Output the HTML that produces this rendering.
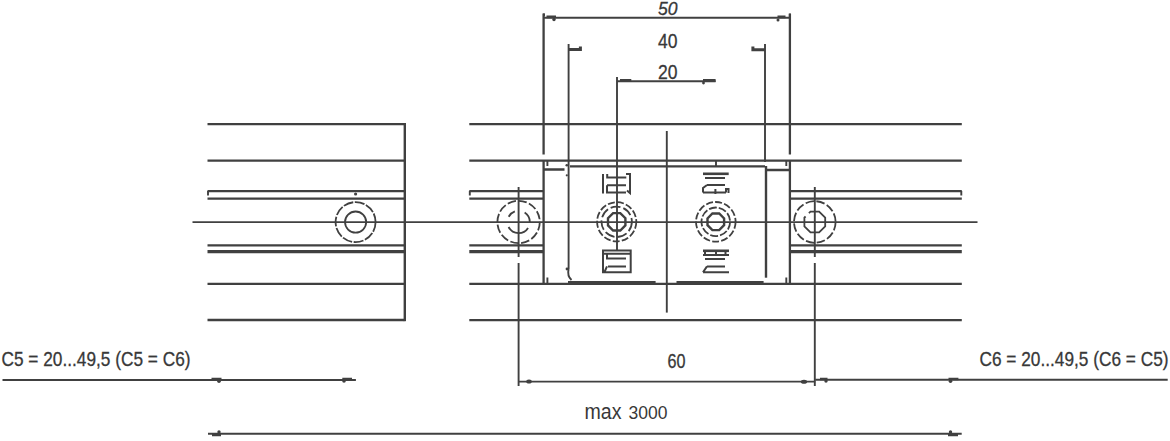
<!DOCTYPE html>
<html><head><meta charset="utf-8">
<style>
html,body{margin:0;padding:0;background:#fff;width:1170px;height:441px;overflow:hidden}
svg{display:block}
text{font-family:"Liberation Sans",sans-serif;fill:#383838}
.b{stroke:#383838;stroke-width:0.3}
.t{stroke-width:1.9}
.r{stroke-width:2.3}
.k{stroke-width:3.1}
.e{stroke-width:2.4}
</style></head><body>
<svg width="1170" height="441" viewBox="0 0 1170 441">
<g stroke="#404040" fill="none" stroke-linecap="butt">
<!-- left rail -->
<path class="r" d="M207.5 124.2H404.5M207.5 160.7H404.5M207.5 191.1H404.5M207.5 198.7H404.5M207.5 245.4H404.5M207.5 283.8H404.5M207.5 320H404.5"/>
<path class="e" d="M404.8 123V321.2"/>
<path class="k" d="M207.5 251.6H404.5"/>
<path class="t" d="M208 191V195.5"/>
<!-- middle/right rail -->
<path class="r" d="M469.3 124.2H961.8M469.3 160.6H961.8M469.3 191.1H543.6M789.9 191.1H961.8M469.3 198.7H543.6M789.9 198.7H961.8M469.3 245.4H543.6M789.9 245.4H961.8M469.3 283.8H961.8M469.3 320.1H961.8"/>
<path class="k" d="M469.3 251.6H543.6M789.9 251.6H961.8"/>
<path class="t" d="M469.8 191V195.5M961.3 191V195.5"/>
<!-- center line -->
<path d="M192.5 222.2H977.5" stroke-width="1.7"/>
<!-- carriage outer -->
<path class="r" d="M543.6 13.5V154.5M543.6 160.5V283.2M789.9 13.5V154.5M789.9 160.5V283.2"/>
<path class="t" d="M547.4 161V166M547.4 277.5V283M786.3 161V166M786.3 277.5V283M716 161V166"/>
<path class="t" d="M568.6 44V269"/>
<path class="t" d="M765 44V162"/>
<path class="e" d="M766 166V277.7"/>
<path class="r" d="M570 166.3H765M543.6 169.5H564.5M767 170H789.5"/>
<path d="M568 282.2H655.6M676.5 282.2H763.6" stroke-width="2.6"/>
<path class="t" d="M568.6 269Q567 276 571.5 280"/>
<path class="t" d="M617 77V251"/>
<path class="t" d="M666.8 131V312.6"/>
<!-- hole vertical lines -->
<path class="t" d="M518.6 187V257M518.6 263V386M814.8 187V257M814.8 263V386"/>
</g>
<g stroke="#404040" stroke-width="1.8" fill="none">
<circle cx="355.6" cy="222.1" r="20" stroke-dasharray="10 1.6"/>
<circle cx="355.6" cy="222.1" r="10.6"/>
<circle cx="518.6" cy="222" r="21.2" stroke-dasharray="8.5 2.5"/>
<circle cx="518.6" cy="222" r="11.2" stroke-dasharray="0 6.3 23.5 10.6 8.2 10.2 11.3 0.4"/>
<circle cx="814.8" cy="222" r="20.8" stroke-dasharray="8.5 2.5"/>
<path d="M808.9 213.1L810.5 211.6L819.1 211.6L825.2 217.7L825.2 226.3L819.1 232.4L810.5 232.4L804.4 226.3L804.4 217.7L805.6 216.5"/>
<circle cx="616.7" cy="221.8" r="19.6" stroke-dasharray="7 2.2"/>
<circle cx="616.7" cy="221.8" r="15.2" stroke-dasharray="10 3"/>
<polygon points="625.4,225.4 620.3,230.5 613.1,230.5 608.0,225.4 608.0,218.2 613.1,213.1 620.3,213.1 625.4,218.2" stroke-width="2.4"/>
<circle cx="715.8" cy="221.8" r="19.8" stroke-dasharray="7 2.2"/>
<circle cx="715.8" cy="221.8" r="14.3" stroke-dasharray="8 2"/>
<polygon points="724.1,225.2 719.2,230.1 712.4,230.1 707.5,225.2 707.5,218.4 712.4,213.5 719.2,213.5 724.1,218.4" stroke-width="2.4"/>
</g>
<!-- symbols -->
<g stroke="#404040" stroke-width="2" fill="none">
<path d="M603 174V193.5M607.2 174V177.5H626.3M607 185.3H626M607 185.3V192.5H626M626 174H630V193L627 190.5"/>
<path d="M603 250.4H630.7V272.2H603ZM603 253.8H630.7M607 253.8V258.6H626M608 266.4H626M607 266.4L604.5 272"/>
<path d="M703 173.8H728.7" stroke-width="2.6"/>
<path d="M705 177.9H725M707 185H725M703 192.5H726M703 192.5V188L707 185M726 192.5V189H728.5V193M715.4 189V194"/>
<path d="M703 250.8H729" stroke-width="2.6"/>
<path d="M703 254.9H729M705 259H725M707 266.4H725M703 272.2H729M703 272.2L707 266.4M716 250.8V254.9M705 250.8V254.9M725.5 250.8V254.9"/>
</g>
<!-- dimensions -->
<g stroke="#404040" fill="none">
<path class="t" d="M543.6 17.8H789.9"/>
<path d="M546.5 16.8H556M777.5 16.8H785.5" stroke-width="2.8"/>
<path d="M544 13.4V16M789.9 13.7V17" stroke-width="2"/>
<path d="M568.3 49.6H580.4V46.5M752.9 46.5V49.8H765" stroke-width="3"/>
<path class="t" d="M617 81.3H715.6"/>
<path d="M620 80.3H631.3M703 80.5H715.6" stroke-width="2.8"/>
<path class="t" d="M518.6 381.6H815.2"/>
<path class="t" d="M2.5 380H355.9M815.2 379.8H1167.7"/>
<path d="M211.5 379H221.5M342.3 379H352M820 379H827.5M948.5 379H958.4" stroke-width="2.6"/>
<path class="t" d="M208 433.8H961.7"/>
<path d="M212 435H221M948 435H958" stroke-width="2.6"/>
</g>
<g fill="#404040">
<circle cx="355.6" cy="194" r="1.6"/>
<circle cx="566.8" cy="165.2" r="1.3"/>
<circle cx="566.8" cy="175.3" r="1.1"/>
<circle cx="567" cy="269" r="1.4"/>
<circle cx="219" cy="381.3" r="1.8"/>
<circle cx="344" cy="381" r="1.8"/>
<circle cx="826" cy="381" r="1.7"/>
<circle cx="950.5" cy="381.2" r="1.8"/>
<circle cx="219" cy="432" r="1.7"/>
<circle cx="950.5" cy="432" r="1.7"/>
<circle cx="554" cy="19.5" r="1.7"/>
<circle cx="778" cy="20" r="1.5"/>
<circle cx="703.5" cy="83" r="1.4"/>
<ellipse cx="529" cy="381.5" rx="2.8" ry="2"/>
<ellipse cx="804" cy="381.7" rx="3.2" ry="2"/>
</g>
<g>
<text class="b" x="658" y="14.6" font-size="19" font-style="italic" textLength="19.5" lengthAdjust="spacingAndGlyphs">50</text>
<text class="b" x="658" y="48" font-size="20.6" textLength="19.5" lengthAdjust="spacingAndGlyphs">40</text>
<text class="b" x="658" y="78.6" font-size="20.6" textLength="19.5" lengthAdjust="spacingAndGlyphs">20</text>
<text class="b" x="667.5" y="367.5" font-size="19.5" textLength="18" lengthAdjust="spacingAndGlyphs">60</text>
<text x="584.5" y="419.3" font-size="22" textLength="37" lengthAdjust="spacingAndGlyphs">max</text>
<text x="628.5" y="419.3" font-size="18.5" textLength="39" lengthAdjust="spacingAndGlyphs">3000</text>
<text class="b" x="1.5" y="365.5" font-size="19.8" textLength="189" lengthAdjust="spacingAndGlyphs">C5 = 20...49,5 (C5 = C6)</text>
<text class="b" x="979.5" y="365.5" font-size="19.8" textLength="189" lengthAdjust="spacingAndGlyphs">C6 = 20...49,5 (C6 = C5)</text>
</g>
</svg>
</body></html>
